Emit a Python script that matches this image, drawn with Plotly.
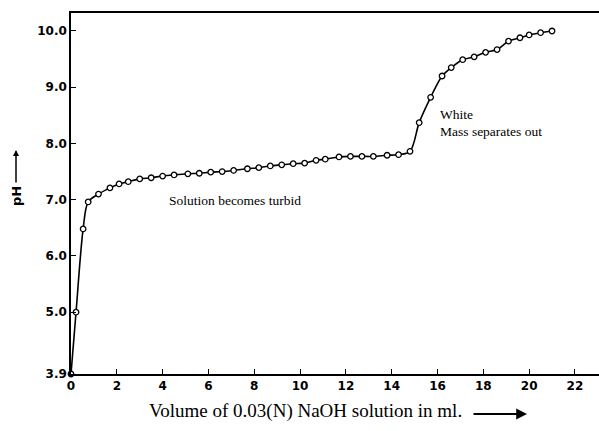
import plotly.graph_objects as go

volume_ml = [0.0, 0.22, 0.53, 0.75, 1.2, 1.7, 2.1, 2.5, 3.0, 3.5, 4.0, 4.5, 5.1, 5.6,
             6.1, 6.6, 7.1, 7.7, 8.2, 8.7, 9.2, 9.7, 10.2, 10.7, 11.1, 11.7, 12.2, 12.7,
             13.2, 13.8, 14.3, 14.8, 15.2, 15.7, 16.2, 16.6, 17.1, 17.6, 18.1, 18.6,
             19.1, 19.6, 20.0, 20.5, 21.0]
ph_values = [3.9, 5.0, 6.48, 6.96, 7.1, 7.21, 7.28, 7.32, 7.37, 7.39, 7.42, 7.44, 7.46, 7.47,
             7.49, 7.5, 7.52, 7.55, 7.57, 7.6, 7.62, 7.64, 7.65, 7.7, 7.72, 7.76, 7.77, 7.77,
             7.77, 7.79, 7.8, 7.86, 8.37, 8.82, 9.2, 9.35, 9.49, 9.54, 9.62, 9.67,
             9.82, 9.88, 9.93, 9.97, 10.0]

x_ticks = [0, 2, 4, 6, 8, 10, 12, 14, 16, 18, 20, 22]
y_ticks = [3.9, 5.0, 6.0, 7.0, 8.0, 9.0, 10.0]
y_tick_labels = ["3.9", "5.0", "6.0", "7.0", "8.0", "9.0", "10.0"]

W, H = 599, 431
ML, MR, MT, MB = 71, 0, 13, 57
PW, PH = W - ML - MR, H - MT - MB


def px_x(p):
    return (p - ML) / PW


def px_y(p):
    return (H - MB - p) / PH


fig = go.Figure()
fig.add_trace(go.Scatter(
    x=volume_ml, y=ph_values, mode="lines+markers",
    line=dict(color="black", width=1.6, shape="spline", smoothing=0.9),
    marker=dict(symbol="circle", size=5.5, color="white", line=dict(color="black", width=1.3)),
    showlegend=False, hoverinfo="skip", cliponaxis=False,
))

serif = "Liberation Serif"
fig.add_annotation(x=7.16, y=6.98, text="Solution becomes turbid", showarrow=False,
                   font=dict(family=serif, size=13.5, color="black"))
fig.add_annotation(x=16.03, y=8.51, text="White", showarrow=False, xanchor="left",
                   font=dict(family=serif, size=13.5, color="black"))
fig.add_annotation(x=16.03, y=8.22, text="Mass separates out", showarrow=False, xanchor="left",
                   font=dict(family=serif, size=13.5, color="black"))

# x-axis title with long arrow
fig.add_annotation(xref="paper", yref="paper", x=px_x(305), y=px_y(411),
                   xanchor="center", yanchor="middle",
                   text="Volume of 0.03(N) NaOH solution in ml.", showarrow=False,
                   font=dict(family=serif, size=19, color="black"))
fig.add_annotation(xref="paper", yref="paper", x=px_x(527), y=px_y(414),
                   ax=-55, ay=0, axref="pixel", ayref="pixel",
                   text="", showarrow=True, arrowhead=2, arrowsize=1.2, arrowwidth=1.8,
                   arrowcolor="black")

# y-axis title with long arrow
fig.add_annotation(xref="paper", yref="paper", x=px_x(16), y=px_y(196),
                   xanchor="center", yanchor="middle", textangle=-90,
                   text="pH", showarrow=False,
                   font=dict(family="DejaVu Sans", size=13, color="black", weight="bold"))
fig.add_annotation(xref="paper", yref="paper", x=px_x(16), y=px_y(150),
                   ax=0, ay=34, axref="pixel", ayref="pixel",
                   text="", showarrow=True, arrowhead=2, arrowsize=0.8, arrowwidth=1.5,
                   arrowcolor="black")

fig.update_layout(
    width=W, height=H,
    margin=dict(l=ML, r=MR, t=MT, b=MB, autoexpand=False),
    paper_bgcolor="white", plot_bgcolor="white",
    xaxis=dict(
        range=[0, 23.05], tickvals=x_ticks, ticktext=[str(v) for v in x_ticks],
        ticks="inside", ticklen=5, tickwidth=1.3, tickcolor="black",
        showline=True, linecolor="black", linewidth=1.6, mirror=True,
        showgrid=False, zeroline=False, automargin=False,
        tickfont=dict(family="DejaVu Sans", size=12, color="black", weight="bold"),
    ),
    yaxis=dict(
        range=[3.9, 10.32], tickvals=y_ticks, ticktext=y_tick_labels,
        ticks="inside", ticklen=5, tickwidth=1.3, tickcolor="black",
        showline=True, linecolor="black", linewidth=1.6,
        showgrid=False, zeroline=False, automargin=False,
        tickfont=dict(family="DejaVu Sans", size=12, color="black", weight="bold"),
    ),
)

fig.write_html("out.html", config={"displayModeBar": False},
               post_script="document.body.style.margin='0px';")
